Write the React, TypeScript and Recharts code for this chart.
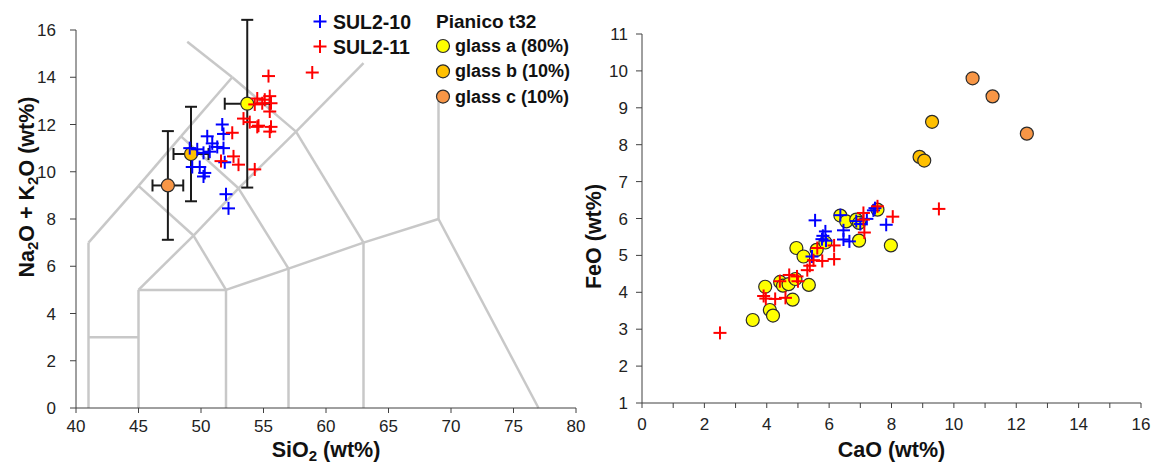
import React from 'react';
import { ScatterChart, Scatter, XAxis, YAxis, ReferenceLine, ErrorBar } from 'recharts';

const FONT = '"Liberation Sans", Arial, Helvetica, sans-serif';
const AXIS = '#404040';
const TICK_TEXT = '#222222';
const FIELD_LINE = '#c8c8c8';
const BLUE = '#0000ff';
const RED = '#ff0000';
const GLASS_A = '#ffff00';
const GLASS_B = '#ffc000';
const GLASS_C = '#f79646';
const MARKER_EDGE = '#2b2b2b';

// TAS field boundaries, [SiO2 start, alkali start, SiO2 end, alkali end]
const tasBoundaries = [
  [41, 0, 41, 7], [41, 7, 45, 9.4], [45, 9.4, 48.4, 11.5], [48.4, 11.5, 52.5, 14], [52.5, 14, 48.9, 15.5],
  [41, 3, 45, 3], [45, 0, 45, 5], [45, 5, 52, 5], [52, 0, 52, 5], [52, 5, 57, 5.9], [57, 0, 57, 5.9],
  [57, 5.9, 63, 7], [63, 0, 63, 7], [63, 7, 69, 8], [69, 8, 77, 0], [69, 8, 69, 13],
  [45, 5, 49.4, 7.3], [49.4, 7.3, 53, 9.3], [53, 9.3, 57.6, 11.7], [57.6, 11.7, 63, 14.6],
  [49.4, 7.3, 45, 9.4], [49.4, 7.3, 52, 5], [53, 9.3, 48.4, 11.5], [53, 9.3, 57, 5.9],
  [57.6, 11.7, 52.5, 14], [57.6, 11.7, 63, 7],
];

// SUL2-10 glass shards, TAS
const sul10SiO2 = [51.7, 51.8, 50.5, 50.9, 51.8, 49.1, 49.7, 50.2, 50.7, 51.3, 51.9, 49.3, 49.9, 50.3, 50.2, 52.0, 52.2];
const sul10Alk = [12.0, 11.6, 11.5, 11.2, 11.0, 11.0, 10.95, 10.8, 10.85, 11.05, 10.4, 10.2, 10.2, 9.95, 9.8, 9.05, 8.45];

// SUL2-11 glass shards, TAS
const sul11SiO2 = [58.9, 55.4, 55.5, 54.5, 55.1, 54.9, 54.3, 55.6, 55.5, 53.4, 53.9, 54.6, 54.5, 55.6, 55.5, 52.5, 51.6, 52.6, 53.0, 54.3];
const sul11Alk = [14.2, 14.05, 13.2, 13.1, 13.05, 12.9, 12.85, 12.9, 12.55, 12.25, 12.1, 11.95, 11.9, 11.9, 11.7, 11.65, 10.45, 10.65, 10.3, 10.1];

// Pianico t32 glass populations: mean +/- 1 sd
const glassNames = ['glass a (80%)', 'glass b (10%)', 'glass c (10%)'];
const glassColors = [GLASS_A, GLASS_B, GLASS_C];
const glassSiO2 = [53.7, 49.2, 47.35];
const glassAlk = [12.88, 10.75, 9.42];
const glassSiO2Sd = [1.8, 1.4, 1.23];
const glassAlkSd = [3.55, 2.0, 2.3];

// CaO vs FeO
const sul10CaO = [5.55, 5.88, 5.8, 5.77, 5.9, 5.45, 6.36, 6.46, 6.46, 6.65, 6.87, 7.0, 7.21, 7.42, 7.83, 7.47];
const sul10FeO = [5.95, 5.65, 5.53, 5.44, 5.4, 4.97, 6.09, 5.68, 5.43, 5.38, 5.93, 5.85, 5.99, 6.22, 5.83, 6.28];
const sul11CaO = [2.5, 3.9, 3.97, 4.27, 4.6, 4.42, 4.72, 4.97, 5.0, 5.3, 5.38, 5.5, 5.78, 5.62, 6.16, 6.16, 7.1, 7.13, 7.55, 8.04, 9.52, 7.1];
const sul11FeO = [2.9, 3.9, 3.83, 3.82, 3.85, 4.3, 4.47, 4.43, 4.3, 4.6, 4.72, 4.87, 4.85, 5.2, 5.27, 4.9, 5.97, 5.62, 6.33, 6.05, 6.26, 6.15];
const glassACaO = [3.55, 4.1, 4.2, 3.95, 4.43, 4.52, 4.7, 4.83, 4.92, 5.35, 4.95, 5.18, 5.6, 5.88, 6.36, 6.55, 6.87, 6.96, 6.96, 7.55, 7.98];
const glassAFeO = [3.25, 3.52, 3.37, 4.15, 4.28, 4.18, 4.22, 3.8, 4.36, 4.2, 5.2, 4.97, 5.15, 5.35, 6.08, 5.92, 5.97, 5.88, 5.4, 6.24, 5.27];
const glassBCaO = [9.3, 8.9, 9.05];
const glassBFeO = [8.62, 7.67, 7.57];
const glassCCaO = [10.6, 11.24, 12.34];
const glassCFeO = [9.8, 9.31, 8.3];

const tasXTicks = [40, 45, 50, 55, 60, 65, 70, 75, 80];
const tasYTicks = [0, 2, 4, 6, 8, 10, 12, 14, 16];
const caoTicks = [0, 1, 2, 3, 4, 5, 6, 7, 8, 9, 10, 11, 12, 13, 14, 15, 16];
const feoTicks = [1, 2, 3, 4, 5, 6, 7, 8, 9, 10, 11];

const zipPts = (xs: number[], ys: number[]) => xs.map((x, i) => ({ x, y: ys[i] }));

const sul10Tas = zipPts(sul10SiO2, sul10Alk);
const sul11Tas = zipPts(sul11SiO2, sul11Alk);
const glassTas = glassNames.map((_, i) => [
  { x: glassSiO2[i], y: glassAlk[i], ex: glassSiO2Sd[i], ey: glassAlkSd[i] },
]);
const sul10Fe = zipPts(sul10CaO, sul10FeO);
const sul11Fe = zipPts(sul11CaO, sul11FeO);
const glassFe = [zipPts(glassACaO, glassAFeO), zipPts(glassBCaO, glassBFeO), zipPts(glassCCaO, glassCFeO)];

const tickStyle = { fill: TICK_TEXT, fontSize: 17, fontFamily: FONT };
const titleStyle = { fill: '#111', fontSize: 21.5, fontWeight: 700, fontFamily: FONT };

function PlusMark({ cx, cy, color }: { cx?: number; cy?: number; color: string }) {
  if (cx == null || cy == null) return null;
  const h = 6.5;
  return (
    <g>
      <line x1={cx - h} y1={cy} x2={cx + h} y2={cy} stroke={color} strokeWidth={2} />
      <line x1={cx} y1={cy - h} x2={cx} y2={cy + h} stroke={color} strokeWidth={2} />
    </g>
  );
}

function Dot({ cx, cy, fill }: { cx?: number; cy?: number; fill: string }) {
  if (cx == null || cy == null) return null;
  return <circle cx={cx} cy={cy} r={6.5} fill={fill} stroke={MARKER_EDGE} strokeWidth={1.2} />;
}

const plusShape = (color: string) => (p: any) => <PlusMark cx={p.cx} cy={p.cy} color={color} />;
const dotShape = (fill: string) => (p: any) => <Dot cx={p.cx} cy={p.cy} fill={fill} />;

const Sub = ({ children }: { children: React.ReactNode }) => (
  <tspan fontSize={15} dy={4}>{children}</tspan>
);

function SiO2Title({ viewBox }: any) {
  const vb = viewBox ?? { x: 76, y: 408, width: 500 };
  return (
    <text x={vb.x + vb.width / 2} y={vb.y + 49} textAnchor="middle" style={titleStyle}>
      SiO<Sub>2</Sub>
      <tspan dy={-4}> (wt%)</tspan>
    </text>
  );
}

function AlkaliTitle({ viewBox }: any) {
  const vb = viewBox ?? { x: 16, y: 30, width: 60, height: 378 };
  const x = vb.x + 18;
  const y = vb.y + vb.height / 2 - 32;
  return (
    <text x={x} y={y} textAnchor="middle" transform={`rotate(-90, ${x}, ${y})`} style={titleStyle}>
      Na<Sub>2</Sub>
      <tspan dy={-4}>O + K</tspan>
      <Sub>2</Sub>
      <tspan dy={-4}>O (wt%)</tspan>
    </text>
  );
}

function CaOTitle({ viewBox }: any) {
  const vb = viewBox ?? { x: 642, y: 403, width: 499 };
  return (
    <text x={vb.x + vb.width / 2} y={vb.y + 54} textAnchor="middle" style={titleStyle}>
      CaO (wt%)
    </text>
  );
}

function FeOTitle({ viewBox }: any) {
  const vb = viewBox ?? { x: 602, y: 34, width: 40, height: 369 };
  const x = vb.x - 1;
  const y = vb.y + vb.height / 2 + 18;
  return (
    <text x={x} y={y} textAnchor="middle" transform={`rotate(-90, ${x}, ${y})`} style={titleStyle}>
      FeO (wt%)
    </text>
  );
}

function SeriesKey() {
  const bold = { fontFamily: FONT, fontWeight: 700, fill: '#111' };
  return (
    <svg width={1158} height={465} style={{ position: 'absolute', left: 0, top: 0, pointerEvents: 'none' }}>
      <PlusMark cx={320} cy={21.5} color={BLUE} />
      <text x={333} y={21.5} dominantBaseline="central" fontSize={19.5} style={bold}>SUL2-10</text>
      <PlusMark cx={320} cy={46.5} color={RED} />
      <text x={333} y={46.5} dominantBaseline="central" fontSize={19.5} style={bold}>SUL2-11</text>
      <text x={436} y={21.5} dominantBaseline="central" fontSize={19} style={bold}>Pianico t32</text>
      {glassNames.map((name, i) => {
        const cy = 46 + i * 25.3;
        return (
          <g key={name}>
            <circle cx={443} cy={cy} r={6.5} fill={glassColors[i]} stroke={MARKER_EDGE} strokeWidth={1.2} />
            <text x={455} y={cy} dominantBaseline="central" fontSize={18} style={bold}>{name}</text>
          </g>
        );
      })}
    </svg>
  );
}

function TasChart() {
  return (
    <ScatterChart width={600} height={465} margin={{ top: 30, right: 24, bottom: 17, left: 16 }}>
      <XAxis
        type="number"
        dataKey="x"
        domain={[40, 80]}
        ticks={tasXTicks}
        allowDataOverflow
        stroke={AXIS}
        tickSize={5}
        tickMargin={7}
        tick={tickStyle}
        height={40}
        label={<SiO2Title />}
      />
      <YAxis
        type="number"
        dataKey="y"
        domain={[0, 16]}
        ticks={tasYTicks}
        allowDataOverflow
        stroke={AXIS}
        tickSize={6}
        tickMargin={14}
        tick={tickStyle}
        width={60}
        label={<AlkaliTitle />}
      />
      {tasBoundaries.map(([x1, y1, x2, y2], i) => (
        <ReferenceLine
          key={i}
          segment={[{ x: x1, y: y1 }, { x: x2, y: y2 }]}
          stroke={FIELD_LINE}
          strokeWidth={2.5}
        />
      ))}
      {[2, 1, 0].map((i) => (
        <Scatter key={glassNames[i]} name={glassNames[i]} data={glassTas[i]} shape={dotShape(glassColors[i])} isAnimationActive={false}>
          <ErrorBar dataKey="ex" direction="x" width={6} stroke="#1a1a1a" strokeWidth={2} />
          <ErrorBar dataKey="ey" direction="y" width={6} stroke="#1a1a1a" strokeWidth={2} />
        </Scatter>
      ))}
      <Scatter name="SUL2-10" data={sul10Tas} shape={plusShape(BLUE)} isAnimationActive={false} />
      <Scatter name="SUL2-11" data={sul11Tas} shape={plusShape(RED)} isAnimationActive={false} />
    </ScatterChart>
  );
}

function FeOChart() {
  return (
    <ScatterChart width={598} height={465} margin={{ top: 34, right: 17, bottom: 22, left: 42 }}>
      <XAxis
        type="number"
        dataKey="x"
        domain={[0, 16]}
        ticks={caoTicks}
        interval={0}
        allowDataOverflow
        stroke={AXIS}
        tickSize={5}
        tickMargin={10}
        tick={tickStyle}
        tickFormatter={(v: number) => (v % 2 === 0 ? String(v) : '')}
        height={40}
        label={<CaOTitle />}
      />
      <YAxis
        type="number"
        dataKey="y"
        domain={[1, 11]}
        ticks={feoTicks}
        interval={0}
        allowDataOverflow
        stroke={AXIS}
        tickSize={6}
        tickMargin={8}
        tick={tickStyle}
        width={40}
        label={<FeOTitle />}
      />
      {[2, 1, 0].map((i) => (
        <Scatter key={glassNames[i]} name={glassNames[i]} data={glassFe[i]} shape={dotShape(glassColors[i])} isAnimationActive={false} />
      ))}
      <Scatter name="SUL2-10" data={sul10Fe} shape={plusShape(BLUE)} isAnimationActive={false} />
      <Scatter name="SUL2-11" data={sul11Fe} shape={plusShape(RED)} isAnimationActive={false} />
    </ScatterChart>
  );
}

export default function App() {
  return (
    <div style={{ position: 'absolute', left: 0, top: 0, width: 1158, height: 465, background: '#fff', fontFamily: FONT }}>
      <div style={{ position: 'absolute', left: 0, top: 0 }}>
        <TasChart />
      </div>
      <div style={{ position: 'absolute', left: 560, top: 0 }}>
        <FeOChart />
      </div>
      <SeriesKey />
    </div>
  );
}
